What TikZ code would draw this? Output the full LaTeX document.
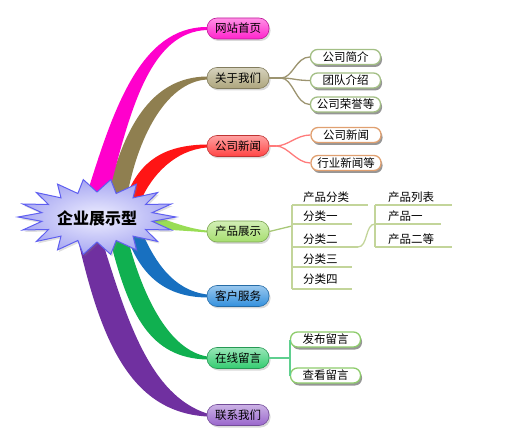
\documentclass[tikz,border=0pt]{standalone}
\usepackage{fontspec}
\setmainfont{Noto Sans CJK SC}
\usetikzlibrary{shadows,shapes.misc}
\definecolor{c1}{HTML}{FF22CC}
\definecolor{c2}{HTML}{ADA57C}
\definecolor{c3}{HTML}{FF4444}
\definecolor{c4}{HTML}{A6DE6E}
\definecolor{c5}{HTML}{3390DD}
\definecolor{c6}{HTML}{33CC70}
\definecolor{c7}{HTML}{9966CC}
\definecolor{b1}{HTML}{FF00CC}
\definecolor{b2}{HTML}{8F7F50}
\definecolor{b3}{HTML}{FF1515}
\definecolor{b4}{HTML}{99DD55}
\definecolor{b5}{HTML}{1870C0}
\definecolor{b6}{HTML}{10B050}
\definecolor{b7}{HTML}{7030A0}
\definecolor{starB}{HTML}{5F5FF0}
\definecolor{starIn}{HTML}{EEEEFF}
\definecolor{starOut}{HTML}{A8A8F2}
\definecolor{oliveL}{HTML}{9C9470}
\definecolor{redL}{HTML}{FF7B7B}
\definecolor{greenL}{HTML}{5FCF8F}
\definecolor{prodL}{HTML}{A8C878}
\definecolor{treeL}{HTML}{C3D59A}
\definecolor{subG}{HTML}{A3BF85}
\definecolor{subO}{HTML}{E0A070}
\definecolor{subG2}{HTML}{8ECC6C}
\begin{document}
\begin{tikzpicture}[x=1pt,y=-1pt,font=\fontsize{11.5}{13}\selectfont,
  mainpill/.style={draw=#1!75!black, line width=0.6pt, rounded corners=10pt,
    minimum width=62pt, minimum height=21pt, inner sep=0pt,
    top color=#1!50!white, bottom color=#1,
    drop shadow={shadow xshift=1.5pt, shadow yshift=-2pt, opacity=0.3}},
  subpill/.style={draw=#1, line width=1.3pt, fill=white, rounded corners=7pt,
    minimum width=70pt, minimum height=15pt, inner sep=0pt,
    drop shadow={shadow xshift=1.5pt, shadow yshift=-2.5pt, opacity=0.55, fill=black!75}},
  treetext/.style={anchor=west, inner sep=0pt},
  treeline/.style={draw=treeL, line width=1.3pt},
  conn/.style={line width=1.3pt}]
\useasboundingbox (0,0) rectangle (514,438);

% branches
\fill[b2] (107,197) .. controls (123,130) and (150,77) .. (207,76.5) -- (207,79.5) .. controls (165,82) and (137,140) .. (127,197) -- cycle;
\fill[b3] (126,197) .. controls (140,160) and (165,145) .. (207,144.5) -- (207,147.5) .. controls (175,150) and (152,175) .. (141,200) -- cycle;
\fill[b1] (86,197) .. controls (113,110) and (140,27) .. (207,27) -- (207,30) .. controls (150,32) and (130,110) .. (108,197) -- cycle;
\fill[b4] (140,210) .. controls (170,222) and (190,229) .. (207,230.5) -- (207,232.5) .. controls (190,231) and (170,230) .. (140,228) -- cycle;
\fill[b5] (126,235) .. controls (139,270) and (160,297) .. (207,297.5) -- (207,294.5) .. controls (172,290) and (154,260) .. (141,230) -- cycle;
\fill[b6] (110,240) .. controls (129,315) and (150,358) .. (207,359.5) -- (207,356.5) .. controls (170,350) and (144,300) .. (128,240) -- cycle;
\fill[b7] (78,240) .. controls (101,340) and (130,412) .. (207,416.5) -- (207,413.5) .. controls (150,395) and (127,320) .. (102,240) -- cycle;

% star
\shade[draw=starB, line width=1pt, inner color=starIn, outer color=starOut,
  drop shadow={shadow xshift=1.5pt, shadow yshift=-2pt, opacity=0.25}]
  plot[samples at={0,...,35}, variable=\k]
  ({97+ifthenelse(mod(\k,2)==0,79,56)*cos(\k*10)}, {217+ifthenelse(mod(\k,2)==0,38,25)*sin(\k*10)}) -- cycle;
\node[font=\fontsize{16}{18}\selectfont\bfseries] (root) at (97,218) {企业展示型};

% main pills
\node[mainpill=c1] (p1) at (238,28.5) {网站首页};
\node[mainpill=c2] (p2) at (238,78) {关于我们};
\node[mainpill=c3] (p3) at (238,146) {公司新闻};
\node[mainpill=c4] (p4) at (238,231.5) {产品展示};
\node[mainpill=c5] (p5) at (238,296) {客户服务};
\node[mainpill=c6] (p6) at (238,358) {在线留言};
\node[mainpill=c7] (p7) at (238,415) {联系我们};

% sub pills
\node[subpill=subG] (s21) at (345.5,57) {公司简介};
\node[subpill=subG] (s22) at (345.5,80.5) {团队介绍};
\node[subpill=subG] (s23) at (345.5,104.5) {公司荣誉等};
\node[subpill=subO] (s31) at (346,135) {公司新闻};
\node[subpill=subO] (s32) at (346,163) {行业新闻等};
\node[subpill=subG2] (s61) at (325.5,339.5) {发布留言};
\node[subpill=subG2] (s62) at (325.5,375.5) {查看留言};

% about connectors
\coordinate (j2) at (281,78);
\draw[conn, oliveL] (p2.east) -- (j2);
\draw[conn, oliveL] (j2) .. controls +(12,0) and +(-14,0) .. (s21.west);
\draw[conn, oliveL] (j2) .. controls +(12,0) and +(-14,0) .. (s22.west);
\draw[conn, oliveL] (j2) .. controls +(12,0) and +(-14,0) .. (s23.west);

% news connectors
\coordinate (j3) at (276,146);
\draw[conn, redL] (p3.east) -- (j3);
\draw[conn, redL] (j3) .. controls +(12,0) and +(-14,0) .. (s31.west);
\draw[conn, redL] (j3) .. controls +(12,0) and +(-14,0) .. (s32.west);

% message connectors
\coordinate (j6) at (290,358);
\draw[conn, greenL] (p6.east) -- (j6);
\draw[conn, greenL] (s61.west) -- (s62.west);

% product tree
\coordinate (tj) at (292,226);
\draw[conn, prodL] (p4.east) -- (tj);
\coordinate (v0) at (292,205);
\coordinate (v1) at (292,224);
\coordinate (v2) at (292,247);
\coordinate (v3) at (292,267);
\coordinate (v4) at (292,289);
\coordinate (h0) at (368,205);
\coordinate (h1) at (352,224);
\coordinate (h2) at (358,247);
\coordinate (h3) at (352,267);
\coordinate (h4) at (352,289);
\draw[treeline] (v0) -- (v4);
\draw[treeline] (v0) -- (h0);
\draw[treeline] (v1) -- (h1);
\draw[treeline] (v2) -- (h2);
\draw[treeline] (v3) -- (h3);
\draw[treeline] (v4) -- (h4);
\coordinate (w0) at (375,205);
\coordinate (w1) at (375,224);
\coordinate (w2) at (375,247);
\coordinate (g0) at (452,205);
\coordinate (g1) at (441,224);
\coordinate (g2) at (452,247);
\draw[treeline] (w0) -- (w2);
\draw[treeline] (w0) -- (g0);
\draw[treeline] (w1) -- (g1);
\draw[treeline] (w2) -- (g2);
\draw[treeline] (h2) .. controls (368,247) and (365,224) .. (w1);

\node[treetext] (n0) at (303,197) {产品分类};
\node[treetext] (n1) at (303,216.5) {分类一};
\node[treetext] (n2) at (303,239) {分类二};
\node[treetext] (n3) at (303,259) {分类三};
\node[treetext] (n4) at (303,279) {分类四};
\node[treetext] (m0) at (388,197) {产品列表};
\node[treetext] (m1) at (388,216.5) {产品一};
\node[treetext] (m2) at (388,239) {产品二等};
\end{tikzpicture}
\end{document}
